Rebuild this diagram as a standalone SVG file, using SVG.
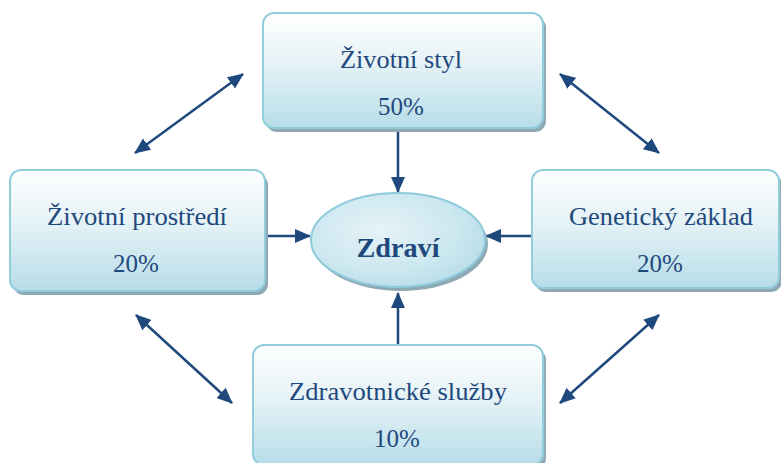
<svg xmlns="http://www.w3.org/2000/svg" width="781" height="463" viewBox="0 0 781 463">
  <defs>
    <linearGradient id="boxFill" x1="0" y1="0" x2="0" y2="1">
      <stop offset="0" stop-color="#ffffff"/>
      <stop offset="0.45" stop-color="#e4f2f6"/>
      <stop offset="1" stop-color="#b7dde8"/>
    </linearGradient>
    <radialGradient id="ellFill" cx="0.4" cy="0.4" r="0.7">
      <stop offset="0" stop-color="#e6f3f7"/>
      <stop offset="0.6" stop-color="#cde8f0"/>
      <stop offset="1" stop-color="#b5dbe6"/>
    </radialGradient>
    <marker id="arrow" viewBox="0 0 16 14" markerWidth="16" markerHeight="14" refX="15" refY="7" orient="auto-start-reverse" markerUnits="userSpaceOnUse">
      <path d="M0,0 L16,7 L0,14 z" fill="#1f497d"/>
    </marker>
    <style>
      .box { fill: url(#boxFill); stroke: #92cddc; stroke-width: 2; }
      .shadow { fill: #8fa9b4; }
      .ell { fill: url(#ellFill); stroke: #8ecadb; stroke-width: 2; }
      .lbl { font-family: "Liberation Serif", "Times New Roman", serif; font-size: 25px; fill: #1f497d; text-anchor: middle; }
      .title { font-family: "Liberation Serif", "Times New Roman", serif; font-size: 28px; font-weight: bold; fill: #1f497d; text-anchor: middle; }
      .conn { stroke: #1f497d; stroke-width: 2.5; fill: none; }
    </style>
  </defs>

  <g id="connectors">
    <line class="conn" x1="398" y1="130" x2="398" y2="192" marker-end="url(#arrow)"/>
    <line class="conn" x1="266" y1="236" x2="310" y2="236" marker-end="url(#arrow)"/>
    <line class="conn" x1="532" y1="236" x2="486" y2="236" marker-end="url(#arrow)"/>
    <line class="conn" x1="398" y1="345" x2="398" y2="293" marker-end="url(#arrow)"/>
    <line class="conn" x1="135" y1="153" x2="243" y2="74" marker-start="url(#arrow)" marker-end="url(#arrow)"/>
    <line class="conn" x1="560" y1="74" x2="659" y2="153" marker-start="url(#arrow)" marker-end="url(#arrow)"/>
    <line class="conn" x1="136" y1="315" x2="232" y2="403" marker-start="url(#arrow)" marker-end="url(#arrow)"/>
    <line class="conn" x1="659" y1="315" x2="560" y2="403" marker-start="url(#arrow)" marker-end="url(#arrow)"/>
  </g>

  <g id="zivotni-styl">
    <rect class="shadow" x="266" y="17" width="280" height="115" rx="11"/>
    <rect class="box" x="263" y="13" width="280" height="115" rx="11"/>
    <text class="lbl" x="401" y="68" textLength="122" lengthAdjust="spacingAndGlyphs">Životní styl</text>
    <text class="lbl" x="401" y="115">50%</text>
  </g>

  <g id="zivotni-prostredi">
    <rect class="shadow" x="13" y="174" width="255" height="121" rx="11"/>
    <rect class="box" x="10" y="170" width="255" height="121" rx="11"/>
    <text class="lbl" x="137" y="225" textLength="180" lengthAdjust="spacingAndGlyphs">Životní prostředí</text>
    <text class="lbl" x="136" y="272">20%</text>
  </g>

  <g id="geneticky-zaklad">
    <rect class="shadow" x="535" y="174" width="247" height="118" rx="11"/>
    <rect class="box" x="532" y="170" width="247" height="118" rx="11"/>
    <text class="lbl" x="661" y="225" textLength="184" lengthAdjust="spacingAndGlyphs">Genetický základ</text>
    <text class="lbl" x="660" y="272">20%</text>
  </g>

  <g id="zdravotnicke-sluzby">
    <rect class="shadow" x="256" y="349" width="290" height="120" rx="11"/>
    <rect class="box" x="253" y="345" width="290" height="120" rx="11"/>
    <text class="lbl" x="398" y="400" textLength="218" lengthAdjust="spacingAndGlyphs">Zdravotnické služby</text>
    <text class="lbl" x="397" y="447">10%</text>
  </g>

  <g id="zdravi">
    <ellipse cx="401" cy="244" rx="87" ry="47" fill="#8fa9b4"/>
    <ellipse class="ell" cx="398" cy="240" rx="87" ry="47"/>
    <text class="title" x="398" y="257" textLength="83" lengthAdjust="spacingAndGlyphs">Zdraví</text>
  </g>
</svg>
